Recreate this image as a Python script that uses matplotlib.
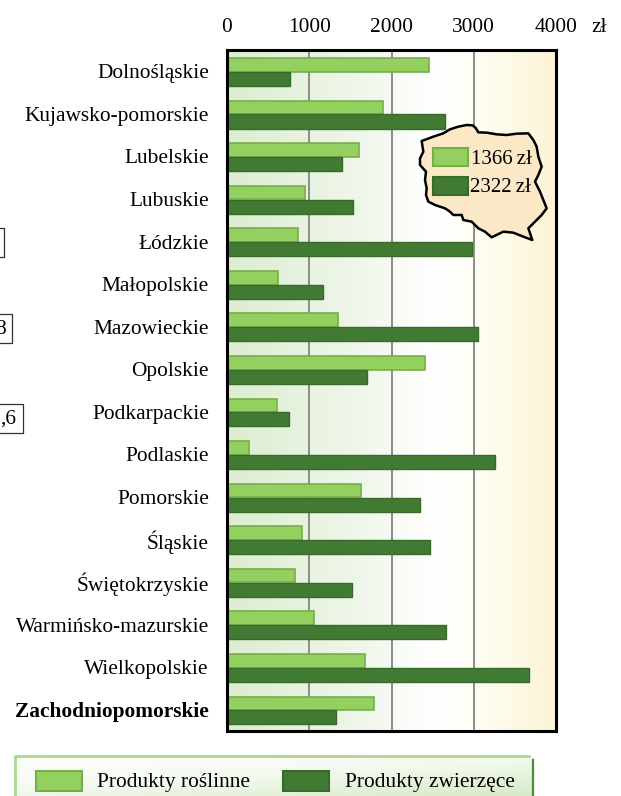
import numpy as np
import matplotlib
matplotlib.use("Agg")
import matplotlib.pyplot as plt
from matplotlib.patches import Polygon, Rectangle
from matplotlib.colors import LinearSegmentedColormap

categories = ["Dolnośląskie", "Kujawsko-pomorskie", "Lubelskie", "Lubuskie", "Łódzkie",
              "Małopolskie", "Mazowieckie", "Opolskie", "Podkarpackie", "Podlaskie",
              "Pomorskie", "Śląskie", "Świętokrzyskie", "Warmińsko-mazurskie",
              "Wielkopolskie", "Zachodniopomorskie"]
plant = [2456, 1897, 1605, 948, 863, 620, 1350, 2407, 608, 267, 1629, 912, 827, 1058, 1678, 1787]
animal = [766, 2650, 1398, 1532, 2979, 1167, 3052, 1702, 754, 3258, 2347, 2468, 1520, 2663, 3672, 1325]
ticks = [0, 1000, 2000, 3000, 4000]
series_names = ["Produkty roślinne", "Produkty zwierzęce"]
poland_values = ["1366\u2009zł", "2322\u2009zł"]

LIGHT, LIGHT_E = "#94d060", "#78ae4a"
DARK, DARK_E = "#417a33", "#386a2c"
W, H = 621, 796
plt.rcParams["font.family"] = ["Liberation Serif", "DejaVu Serif"]
FS = 15.4

fig = plt.figure(figsize=(W / 100, H / 100), dpi=100)
ax = fig.add_axes([227 / W, 1 - 731 / H, 329 / W, 681 / H])

bg = LinearSegmentedColormap.from_list("bg", [(0, "#dcedd0"), (0.4, "#eff6ea"), (0.62, "#ffffff"),
                                              (0.74, "#fffef6"), (1, "#fdf4d6")])
ax.imshow(np.linspace(0, 1, 256)[None, :], cmap=bg, aspect="auto", extent=(0, 4000, 16, 0), zorder=0)

y = np.arange(len(categories)) + 0.5
ax.barh(y - 0.15, plant, height=0.32, color=LIGHT, edgecolor=LIGHT_E, linewidth=1.2, zorder=3)
ax.barh(y + 0.18, animal, height=0.33, color=DARK, edgecolor=DARK_E, linewidth=1.0, zorder=3)

ax.set_xlim(0, 4000)
ax.set_ylim(16, 0)
ax.xaxis.tick_top()
ax.set_xticks(ticks)
ax.set_xticklabels([str(t) for t in ticks], fontsize=FS)
ax.tick_params(axis="x", length=0, pad=9.5)
ax.set_yticks(y)
ax.set_yticklabels(categories, fontsize=FS)
ax.tick_params(axis="y", length=0, pad=13)
ax.get_yticklabels()[-1].set_fontweight("bold")
ax.grid(axis="x", color="#8c8c8c", linewidth=1.4, zorder=1)
ax.set_axisbelow(True)
for s in ax.spines.values():
    s.set_linewidth(2.2)
    s.set_color("black")
    s.set_zorder(6)

# pixel overlay covering the whole figure
ov = fig.add_axes([0, 0, 1, 1], facecolor="none")
ov.axis("off")

ov.text(591, 27, "zł", fontsize=FS, va="center", ha="left")

# Poland outline, traced in crop coordinates
outline = np.array([(65, 123), (100, 110), (130, 100), (150, 88), (175, 80), (200, 75), (218, 76), (228, 85),
                    (235, 97), (260, 98), (290, 103), (320, 105), (350, 101), (385, 100), (400, 120), (410, 140),
                    (415, 170), (425, 200), (415, 225), (405, 245), (420, 275), (440, 325), (425, 345), (405, 365),
                    (385, 385), (397, 420), (370, 410), (340, 398), (310, 395), (275, 412), (255, 395), (235, 385),
                    (215, 365), (190, 360), (185, 345), (160, 345), (150, 335), (135, 325), (105, 315), (85, 305),
                    (78, 285), (80, 265), (75, 240), (78, 215), (60, 195), (60, 175), (70, 155)], float)
outline = outline / 3 + np.array([400, 100])
ov.add_patch(Polygon(outline, closed=True, facecolor="#fbe8c6", edgecolor="black", linewidth=1.8, joinstyle="round"))
ov.add_patch(Rectangle((432.5, 147.5), 35, 18, facecolor=LIGHT, edgecolor=LIGHT_E, linewidth=1.5))
ov.add_patch(Rectangle((432.5, 176.5), 35, 18, facecolor=DARK, edgecolor=DARK_E, linewidth=1.5))
ov.text(471, 159, poland_values[0], fontsize=FS - 0.4, va="center", ha="left")
ov.text(469.5, 188, poland_values[1], fontsize=FS - 0.4, va="center", ha="left")

# legend frame with gradient
lg = LinearSegmentedColormap.from_list("lg", ["#ffffff", "#f3f9ee", "#d6eac6"])
gx, gy = np.meshgrid(np.linspace(0, 1, 200), np.linspace(0, 1, 60))
ov.imshow(0.45 * gx + 0.55 * gy, cmap=lg, extent=(14, 534, 796, 756), aspect="auto", zorder=1, vmin=0, vmax=1)
ov.set_xlim(0, W)
ov.set_ylim(H, 0)
ov.plot([14.5, 14.5, 529], [796, 756, 756], color="#a9d98f", linewidth=2, zorder=2)
ov.plot([533, 533], [760, 796], color="#4f8a3c", linewidth=1.6, zorder=2)
ov.add_patch(Rectangle((36, 771), 46, 19.5, facecolor=LIGHT, edgecolor=LIGHT_E, linewidth=1.5, zorder=3))
ov.add_patch(Rectangle((283, 771), 46, 19.5, facecolor=DARK, edgecolor=DARK_E, linewidth=1.5, zorder=3))
ov.text(97, 782, series_names[0], fontsize=FS, va="center", ha="left", zorder=3)
ov.text(345, 782, series_names[1], fontsize=FS, va="center", ha="left", zorder=3)

# cut-off boxes on the left edge
for right, top, bottom, label in [(4, 227.5, 257, ""), (12, 313.5, 343, "8"), (22.5, 403.5, 433, ",6")]:
    ov.plot([0, right, right, 0], [top, top, bottom, bottom], color="#333333", linewidth=0.9)
    if label:
        ov.text(right - 6, (top + bottom) / 2 + 1, label, fontsize=FS, va="center", ha="right")

fig.savefig("out.png", dpi=100)
